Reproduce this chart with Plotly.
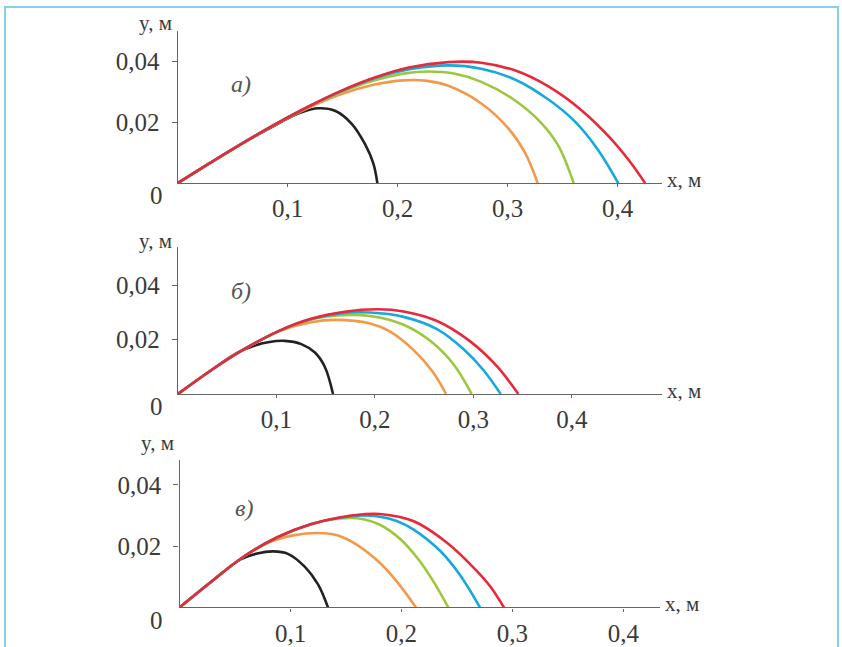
import plotly.graph_objects as go

W, H = 842, 647

# ---------------- data (x, y in metres) ----------------
# panel а)
A_RED_X = [0, 0.028, 0.058, 0.0885, 0.119, 0.149, 0.179, 0.21, 0.246, 0.276, 0.307, 0.337, 0.367, 0.392, 0.41, 0.425]
A_RED_Y = [0, 0.0063, 0.0129, 0.0193, 0.0252, 0.0304, 0.0347, 0.0380, 0.0398, 0.0396, 0.0370, 0.0318, 0.0240, 0.0153, 0.0076, 0]
A_CYAN_X = [0, 0.028, 0.058, 0.0885, 0.119, 0.149, 0.179, 0.212, 0.246, 0.276, 0.307, 0.337, 0.361, 0.382, 0.4005]
A_CYAN_Y = [0, 0.0063, 0.0129, 0.0193, 0.0252, 0.0303, 0.0345, 0.0375, 0.0387, 0.0376, 0.0340, 0.0275, 0.0203, 0.0110, 0]
A_GREEN_X = [0, 0.028, 0.058, 0.0885, 0.119, 0.149, 0.179, 0.205, 0.228, 0.25, 0.276, 0.307, 0.331, 0.346, 0.36]
A_GREEN_Y = [0, 0.0063, 0.0129, 0.0193, 0.0251, 0.0300, 0.0338, 0.0360, 0.0367, 0.0361, 0.0333, 0.0271, 0.0196, 0.0123, 0]
A_ORANGE_X = [0, 0.028, 0.058, 0.0885, 0.119, 0.149, 0.179, 0.205, 0.225, 0.246, 0.276, 0.3006, 0.3157, 0.3273]
A_ORANGE_Y = [0, 0.0063, 0.0129, 0.0192, 0.0248, 0.0293, 0.0324, 0.0338, 0.0337, 0.0320, 0.0262, 0.0180, 0.0100, 0]
A_BLACK_X = [0, 0.028, 0.058, 0.0885, 0.0975, 0.1127, 0.1278, 0.143, 0.1582, 0.1703, 0.1779, 0.1815]
A_BLACK_Y = [0, 0.0063, 0.0129, 0.0190, 0.0208, 0.0233, 0.0246, 0.0238, 0.0195, 0.0128, 0.0064, 0]

# panel б)
B_RED_X = [0, 0.034, 0.068, 0.1015, 0.135, 0.169, 0.203, 0.229, 0.263, 0.296, 0.3235, 0.3455]
B_RED_Y = [0, 0.0088, 0.0166, 0.0230, 0.0276, 0.0302, 0.0311, 0.0303, 0.0268, 0.0195, 0.0103, 0]
B_CYAN_X = [0, 0.034, 0.068, 0.1015, 0.135, 0.165, 0.195, 0.229, 0.263, 0.29, 0.31, 0.3276]
B_CYAN_Y = [0, 0.0088, 0.0166, 0.0230, 0.0275, 0.0296, 0.0299, 0.0283, 0.0238, 0.0164, 0.0088, 0]
B_GREEN_X = [0, 0.034, 0.068, 0.1015, 0.135, 0.165, 0.195, 0.229, 0.256, 0.2795, 0.2981]
B_GREEN_Y = [0, 0.0088, 0.0166, 0.0229, 0.0273, 0.0289, 0.0286, 0.0254, 0.0195, 0.0110, 0]
B_ORANGE_X = [0, 0.034, 0.068, 0.1015, 0.135, 0.16, 0.195, 0.215, 0.239, 0.259, 0.2721]
B_ORANGE_Y = [0, 0.0088, 0.0166, 0.0228, 0.0263, 0.0272, 0.0259, 0.0230, 0.0162, 0.0080, 0]
B_BLACK_X = [0, 0.034, 0.06, 0.078, 0.0914, 0.1083, 0.1252, 0.139, 0.149, 0.1574]
B_BLACK_Y = [0, 0.0088, 0.0151, 0.0178, 0.0190, 0.0195, 0.0183, 0.0152, 0.0100, 0]

# panel в)
C_RED_X = [0, 0.0286, 0.0587, 0.0887, 0.1187, 0.143, 0.1656, 0.1806, 0.2106, 0.2407, 0.2647, 0.2797, 0.2923]
C_RED_Y = [0, 0.0084, 0.0168, 0.0230, 0.0272, 0.0293, 0.0304, 0.0305, 0.0282, 0.0212, 0.0131, 0.0070, 0]
C_CYAN_X = [0, 0.0286, 0.0587, 0.0887, 0.1187, 0.143, 0.1656, 0.1806, 0.1957, 0.2106, 0.2347, 0.2527, 0.2707]
C_CYAN_Y = [0, 0.0084, 0.0168, 0.0230, 0.0272, 0.0292, 0.0300, 0.0296, 0.0282, 0.0255, 0.0185, 0.0106, 0]
C_GREEN_X = [0, 0.0286, 0.0587, 0.0887, 0.1187, 0.1356, 0.1536, 0.1656, 0.1806, 0.1986, 0.2167, 0.2287, 0.2422]
C_GREEN_Y = [0, 0.0084, 0.0168, 0.0230, 0.0271, 0.0286, 0.0292, 0.0288, 0.0270, 0.0224, 0.0150, 0.0085, 0]
C_ORANGE_X = [0, 0.0286, 0.0587, 0.0827, 0.1037, 0.1248, 0.1428, 0.1596, 0.1806, 0.1957, 0.2131]
C_ORANGE_Y = [0, 0.0084, 0.0168, 0.0215, 0.0236, 0.0243, 0.0235, 0.0205, 0.0145, 0.0085, 0]
C_BLACK_X = [0, 0.0286, 0.055, 0.07, 0.0845, 0.0977, 0.1128, 0.1248, 0.1338]
C_BLACK_Y = [0, 0.0084, 0.0157, 0.0176, 0.0183, 0.0175, 0.0133, 0.0075, 0]

X_TICKS = [0.1, 0.2, 0.3, 0.4]
X_TICK_TEXT = ["0,1", "0,2", "0,3", "0,4"]
Y_TICKS = [0.02, 0.04]
Y_TICK_TEXT = ["0,02", "0,04"]
PANEL_LABELS = ["а)", "б)", "в)"]

COLORS = {"black": "#222222", "orange": "#f39a4a", "green": "#9dc73f",
          "cyan": "#17a8dc", "red": "#e8293a"}

panels = [
    {"black": (A_BLACK_X, A_BLACK_Y), "orange": (A_ORANGE_X, A_ORANGE_Y),
     "green": (A_GREEN_X, A_GREEN_Y), "cyan": (A_CYAN_X, A_CYAN_Y), "red": (A_RED_X, A_RED_Y)},
    {"black": (B_BLACK_X, B_BLACK_Y), "orange": (B_ORANGE_X, B_ORANGE_Y),
     "green": (B_GREEN_X, B_GREEN_Y), "cyan": (B_CYAN_X, B_CYAN_Y), "red": (B_RED_X, B_RED_Y)},
    {"black": (C_BLACK_X, C_BLACK_Y), "orange": (C_ORANGE_X, C_ORANGE_Y),
     "green": (C_GREEN_X, C_GREEN_Y), "cyan": (C_CYAN_X, C_CYAN_Y), "red": (C_RED_X, C_RED_Y)},
]

# layout geometry (pixels): x0, x1 of axis, y bottom, y top, x range max, y range max, y-label centre
geom = [
    dict(x0=177.7, x1=661.7, yb=185.7, yt=31.5, xmax=0.44, ymax=0.05, ylab=23),
    dict(x0=178.0, x1=662.0, yb=399.5, yt=250.4, xmax=0.4914, ymax=0.054, ylab=244),
    dict(x0=179.5, x1=660.0, yb=616.0, yt=466.9, xmax=0.4329, ymax=0.048, ylab=449),
]

def px(x):
    return x / W

def py(y):
    return 1 - y / H

FONT = "Liberation Serif"
TXT = "#3a3a3a"
AX = "#666666"

fig = go.Figure()
layout = dict(width=W, height=H, margin=dict(l=0, r=0, t=0, b=0),
              paper_bgcolor="white", plot_bgcolor="white", showlegend=False)
annotations = []

for i, (pdata, g) in enumerate(zip(panels, geom)):
    sfx = "" if i == 0 else str(i + 1)
    for name in ["black", "orange", "green", "cyan", "red"]:
        xs, ys = pdata[name]
        fig.add_trace(go.Scatter(x=xs, y=ys, mode="lines",
                                 line=dict(color=COLORS[name], width=2.6, shape="spline", smoothing=1.0),
                                 xaxis="x" + sfx, yaxis="y" + sfx, hoverinfo="skip"))
    layout["xaxis" + sfx] = dict(
        domain=[px(g["x0"]), px(g["x1"])], range=[0, g["xmax"]], anchor="y" + sfx,
        showgrid=False, zeroline=False, showline=True, linecolor=AX, linewidth=1.3,
        ticks="outside", ticklen=3, tickcolor=AX, tickwidth=1,
        tickvals=X_TICKS, ticktext=X_TICK_TEXT, ticklabelstandoff=0,
        tickfont=dict(family=FONT, size=25, color=TXT), fixedrange=True)
    layout["yaxis" + sfx] = dict(
        domain=[py(g["yb"]), py(g["yt"])], range=[0, g["ymax"]], anchor="x" + sfx,
        showgrid=False, zeroline=False, showline=True, linecolor=AX, linewidth=1.3,
        ticks="outside", ticklen=5, tickcolor=AX, tickwidth=1,
        tickvals=Y_TICKS, ticktext=Y_TICK_TEXT, ticklabelstandoff=7,
        tickfont=dict(family=FONT, size=25, color=TXT), fixedrange=True)
    # "0" at origin
    annotations.append(dict(x=px(156), y=py(g["yb"] + 13), xref="paper", yref="paper",
                            text="0", showarrow=False, xanchor="center", yanchor="middle",
                            font=dict(family=FONT, size=25, color=TXT)))
    # y label
    annotations.append(dict(x=px(g["x0"] - 4), y=py(g["ylab"]), xref="paper", yref="paper",
                            text="y, м", showarrow=False, xanchor="right", yanchor="middle",
                            font=dict(family=FONT, size=21, color=TXT)))
    # x label
    annotations.append(dict(x=px(g["x1"] + 3), y=py(g["yb"] - 3), xref="paper", yref="paper",
                            text="x, м", showarrow=False, xanchor="left", yanchor="middle",
                            font=dict(family=FONT, size=21, color=TXT)))

label_pos = [(241, 85), (241, 295), (244, 515)]
for lab, (lx, ly) in zip(PANEL_LABELS, label_pos):
    annotations.append(dict(x=px(lx), y=py(ly), xref="paper", yref="paper",
                            text="<i>" + lab + "</i>", showarrow=False,
                            xanchor="center", yanchor="middle",
                            font=dict(family=FONT, size=24, color="#555555")))

layout["annotations"] = annotations
layout["shapes"] = [dict(type="rect", xref="paper", yref="paper",
                         x0=px(5), x1=px(838), y0=-0.05, y1=py(7),
                         line=dict(color="#86d0ea", width=2), layer="below")]
fig.update_layout(**layout)

POST = ("var gd=document.getElementById('{plot_id}');"
        "gd.style.position='fixed';gd.style.left='0px';gd.style.top='0px';"
        "document.body.style.margin='0';document.body.style.overflow='hidden';"
        "document.documentElement.style.overflow='hidden';")
fig.write_html("out.html", config={"displayModeBar": False}, post_script=POST)
